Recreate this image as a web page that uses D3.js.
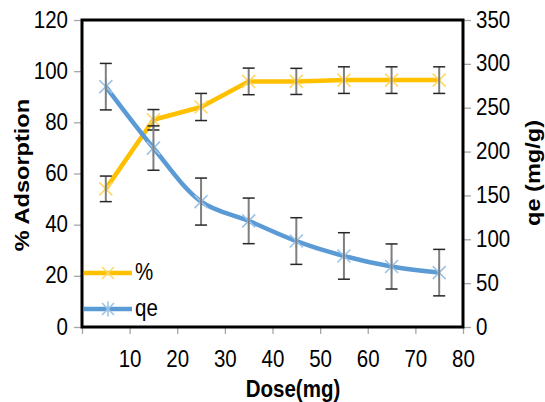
<!DOCTYPE html>
<html><head><meta charset="utf-8">
<script src="https://cdn.jsdelivr.net/npm/d3@7"></script>
<style>body{margin:0;background:#fff}svg{display:block}</style>
</head><body>
<script>
const doses = [5, 15, 25, 35, 45, 55, 65, 75];
const pctValues = [54, 81, 86, 96, 96, 96.5, 96.5, 96.5];
const pctErrors = [5, 4, 5.3, 5.2, 5.1, 5.2, 5.2, 5.2];
const qeValues = [274, 204, 143, 121, 98, 81, 69, 62];
const qeErrors = [26.5, 25.3, 26.8, 26, 26.6, 26.5, 25.7, 26.5];
const xTicks = [0, 10, 20, 30, 40, 50, 60, 70, 80];
const leftTicks = [0, 20, 40, 60, 80, 100, 120];
const rightTicks = [0, 50, 100, 150, 200, 250, 300, 350];
const seriesNames = ["%", "qe"];

const W = 545, H = 402;
const L = 82, R = 463, T = 20, B = 327;
const FONT = "'Liberation Sans', Arial, sans-serif";
const FS = 20.5, SY = 1.15;
const yellow = "#FFC000", yellowM = "#FFD966", blue = "#5B9BD5", blueM = "#9DC3E6";

const svg = d3.select("body").append("svg").attr("width", W).attr("height", H);

const x = d3.scaleLinear().domain([0, 80]).range([L, R]);
const yL = d3.scaleLinear().domain([0, 120]).range([B, T]);
const yR = d3.scaleLinear().domain([0, 350]).range([B, T]);

function styleAxis(g) {
  g.select(".domain").remove();
  g.selectAll(".tick line").attr("stroke", "#A6A6A6").attr("stroke-width", 1.3);
  g.selectAll(".tick text").attr("font-family", FONT).attr("font-size", FS).attr("fill", "#000")
    .attr("transform", `scale(1,${SY})`);
}

svg.append("g").attr("transform", `translate(0,${B})`)
  .call(d3.axisBottom(x).tickValues(xTicks).tickSize(7).tickFormat(d => d === 0 ? "" : d))
  .call(styleAxis)
  .call(g => g.selectAll(".tick text").attr("y", 20).attr("dy", "0.71em"));

svg.append("g").attr("transform", `translate(${L},0)`)
  .call(d3.axisLeft(yL).tickValues(leftTicks).tickSize(8))
  .call(styleAxis)
  .call(g => g.selectAll(".tick text").attr("x", -14).attr("dy", "0.30em"));

svg.append("g").attr("transform", `translate(${R},0)`)
  .call(d3.axisRight(yR).tickValues(rightTicks).tickSize(8))
  .call(styleAxis)
  .call(g => g.selectAll(".tick text").attr("x", 13).attr("dy", "0.30em"));

const pctData = doses.map((d, i) => ({x: d, y: pctValues[i], e: pctErrors[i]}));
const qeData = doses.map((d, i) => ({x: d, y: qeValues[i], e: qeErrors[i]}));

svg.append("path").datum(pctData)
  .attr("d", d3.line().x(d => x(d.x)).y(d => yL(d.y)).curve(d3.curveLinear))
  .attr("fill", "none").attr("stroke", yellow).attr("stroke-width", 4.5).attr("stroke-linejoin", "round");

function xMarker(g, cx, cy, s, color, star) {
  g.append("path")
    .attr("d", `M${cx - s},${cy - s}L${cx + s},${cy + s}M${cx - s},${cy + s}L${cx + s},${cy - s}` + (star ? `M${cx},${cy - s * 1.25}L${cx},${cy + s * 1.25}` : ""))
    .attr("stroke", color).attr("stroke-width", 1.6).attr("fill", "none");
}

const mk = svg.append("g");
pctData.forEach(d => xMarker(mk, x(d.x), yL(d.y), 6.5, yellowM, false));

svg.append("path").datum(qeData)
  .attr("d", d3.line().x(d => x(d.x)).y(d => yR(d.y)).curve(d3.curveCatmullRom.alpha(0.5)))
  .attr("fill", "none").attr("stroke", blue).attr("stroke-width", 4.5).attr("stroke-linejoin", "round");

const mk2 = svg.append("g");
qeData.forEach(d => xMarker(mk2, x(d.x), yR(d.y), 6.5, blueM, true));

function errBars(data, y) {
  const g = svg.append("g");
  data.forEach(d => {
    const cx = x(d.x), y1 = y(d.y + d.e), y2 = y(d.y - d.e);
    g.append("line").attr("x1", cx).attr("x2", cx).attr("y1", y1).attr("y2", y2)
      .attr("stroke", "#7F7F7F").attr("stroke-width", 2);
    [y1, y2].forEach(yy => g.append("line").attr("x1", cx - 6).attr("x2", cx + 6).attr("y1", yy).attr("y2", yy)
      .attr("stroke", "#262626").attr("stroke-width", 1.5));
  });
}
errBars(pctData, yL);
errBars(qeData, yR);

svg.append("rect").attr("x", L).attr("y", T).attr("width", R - L).attr("height", B - T)
  .attr("fill", "none").attr("stroke", "#000").attr("stroke-width", 3);

const leg = [{name: seriesNames[0], c: yellow, m: yellowM, star: false, y: 273},
             {name: seriesNames[1], c: blue, m: blueM, star: true, y: 309}];
const lg = svg.append("g");
leg.forEach(l => {
  lg.append("line").attr("x1", 84).attr("x2", 132).attr("y1", l.y).attr("y2", l.y)
    .attr("stroke", l.c).attr("stroke-width", 4.5);
  xMarker(lg, 108, l.y, 6, l.m, l.star);
  lg.append("text").attr("transform", `translate(135,${l.y + 7}) scale(1,${SY})`)
    .attr("font-family", FONT).attr("font-size", FS).text(l.name);
});

svg.append("text").attr("transform", `translate(293,397) scale(1,${SY})`)
  .attr("text-anchor", "middle").attr("font-family", FONT).attr("font-size", 20.5).attr("font-weight", "bold")
  .text("Dose(mg)");
svg.append("text").attr("transform", `translate(29,175) scale(1,${SY}) rotate(-90)`)
  .attr("text-anchor", "middle").attr("font-family", FONT).attr("font-size", 20.5).attr("font-weight", "bold")
  .text("% Adsorption");
svg.append("text").attr("transform", `translate(540,173) scale(1,${SY}) rotate(-90)`)
  .attr("text-anchor", "middle").attr("font-family", FONT).attr("font-size", 20.5).attr("font-weight", "bold")
  .text("qe (mg/g)");
</script>
</body></html>
